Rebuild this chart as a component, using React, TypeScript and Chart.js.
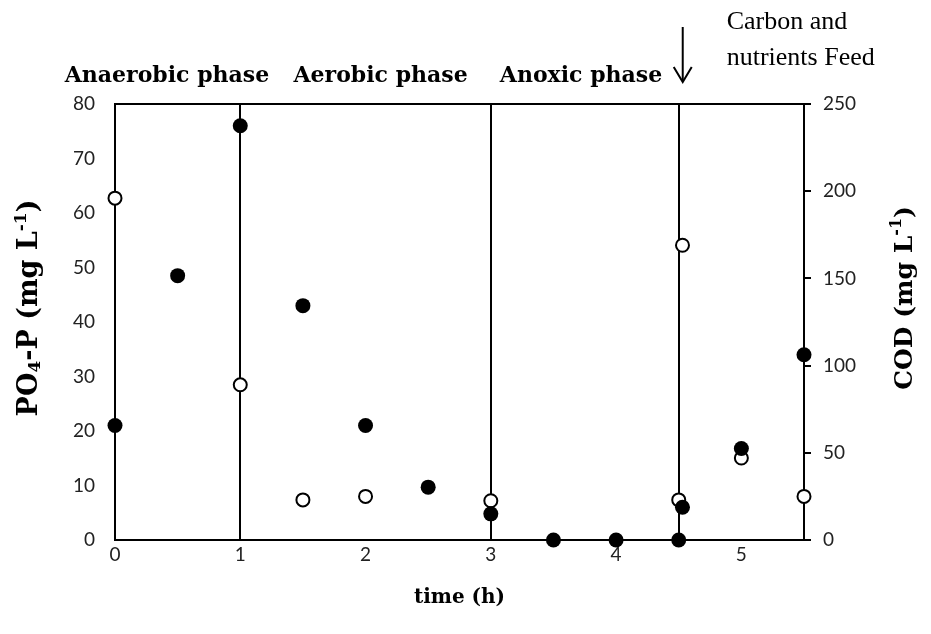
import React, { useEffect, useRef } from "react";
import { Chart, registerables } from "chart.js";

Chart.register(...registerables);

// PO4-P measurements (filled markers, left axis)
const poTime = [0, 0.5, 1, 1.5, 2, 2.5, 3, 3.5, 4, 4.5, 4.53, 5, 5.5];
const poValues = [21, 48.5, 76, 43, 21, 9.7, 4.8, 0, 0, 0, 6, 16.8, 34];

// COD measurements (open markers, right axis)
const codTime = [0, 1, 1.5, 2, 3, 4.5, 4.53, 5, 5.5];
const codValues = [196, 89, 23, 25, 22.5, 23, 169, 47, 25];

const xTickValues = [0, 1, 2, 3, 4, 5];
const phaseBoundaries = [1, 3, 4.5];
const phaseNames = ["Anaerobic phase", "Aerobic phase", "Anoxic phase"];
const phaseNameCenters = [0.415, 2.12, 3.72];
const feedTime = 4.5;
const feedText = ["Carbon and", "nutrients Feed"];

const SERIF = '"DejaVu Serif", serif';
const TEXT_SERIF = '"Liberation Serif", "Times New Roman", serif';
const SANS = 'Lato, "Open Sans", sans-serif';

type Part = { t: string; size: number; shift: number };

function drawParts(ctx: CanvasRenderingContext2D, parts: Part[], cx: number, cy: number, rot: number) {
  ctx.save();
  ctx.translate(cx, cy);
  ctx.rotate(rot);
  ctx.textBaseline = "middle";
  ctx.textAlign = "left";
  let total = 0;
  for (const p of parts) {
    ctx.font = `bold ${p.size}px ${SERIF}`;
    total += ctx.measureText(p.t).width;
  }
  let x = -total / 2;
  for (const p of parts) {
    ctx.font = `bold ${p.size}px ${SERIF}`;
    ctx.fillText(p.t, x, p.shift);
    x += ctx.measureText(p.t).width;
  }
  ctx.restore();
}

const overlay = {
  id: "phaseOverlay",
  beforeDatasetsDraw(chart: any) {
    const { ctx, chartArea, scales } = chart;
    const xs = scales.x;
    ctx.save();
    ctx.strokeStyle = "#000";
    ctx.lineWidth = 2;
    // top frame line
    ctx.beginPath();
    ctx.moveTo(chartArea.left - 1, chartArea.top);
    ctx.lineTo(chartArea.right, chartArea.top);
    ctx.stroke();
    // phase boundaries
    for (const b of phaseBoundaries) {
      const px = Math.round(xs.getPixelForValue(b));
      ctx.beginPath();
      ctx.moveTo(px, chartArea.top);
      ctx.lineTo(px, chartArea.bottom);
      ctx.stroke();
    }
    ctx.restore();
  },
  afterDraw(chart: any) {
    const { ctx, chartArea, scales } = chart;
    const xs = scales.x;
    ctx.save();
    ctx.fillStyle = "#000";
    ctx.strokeStyle = "#000";

    // phase names
    ctx.font = `bold 22px ${SERIF}`;
    ctx.textAlign = "center";
    ctx.textBaseline = "alphabetic";
    phaseNames.forEach((n, i) => {
      ctx.fillText(n, xs.getPixelForValue(phaseNameCenters[i]), 82);
    });

    // feed arrow
    const ax = xs.getPixelForValue(feedTime) + 4;
    ctx.lineWidth = 2;
    ctx.beginPath();
    ctx.moveTo(ax, 27);
    ctx.lineTo(ax, 81);
    ctx.stroke();
    ctx.beginPath();
    ctx.moveTo(ax - 9, 67);
    ctx.lineTo(ax, 82);
    ctx.lineTo(ax + 9, 67);
    ctx.stroke();

    ctx.font = `26px ${TEXT_SERIF}`;
    ctx.textAlign = "left";
    ctx.fillText(feedText[0], ax + 44, 29);
    ctx.fillText(feedText[1], ax + 44, 65);

    // axis titles
    drawParts(ctx, [{ t: "time (h)", size: 20, shift: 0 }], (chartArea.left + chartArea.right) / 2, 598, 0);
    drawParts(
      ctx,
      [
        { t: "PO", size: 27, shift: 0 },
        { t: "4", size: 17, shift: 6 },
        { t: "-P (mg L", size: 27, shift: 0 },
        { t: "-1", size: 17, shift: -8 },
        { t: ")", size: 27, shift: 0 },
      ],
      30,
      308,
      -Math.PI / 2
    );
    drawParts(
      ctx,
      [
        { t: "COD (mg L", size: 25, shift: 0 },
        { t: "-1", size: 16, shift: -8 },
        { t: ")", size: 25, shift: 0 },
      ],
      905,
      298,
      -Math.PI / 2
    );
    ctx.restore();
  },
};

export default function App() {
  const ref = useRef<HTMLCanvasElement | null>(null);

  useEffect(() => {
    document.body.style.margin = "0";
    const canvas = ref.current;
    if (!canvas) return;
    const tickFont = { family: SANS, size: 19 };
    const chart = new Chart(canvas, {
      type: "scatter",
      data: {
        datasets: [
          {
            label: "PO4-P",
            data: poTime.map((t, i) => ({ x: t, y: poValues[i] })),
            yAxisID: "y",
            pointRadius: 7.5,
            pointBackgroundColor: "#000",
            pointBorderColor: "#000",
            pointBorderWidth: 0,
            clip: false,
          },
          {
            label: "COD",
            data: codTime.map((t, i) => ({ x: t, y: codValues[i] })),
            yAxisID: "y1",
            pointRadius: 6.5,
            pointBackgroundColor: "#fff",
            pointBorderColor: "#000",
            pointBorderWidth: 2,
            clip: false,
          },
        ],
      },
      options: {
        responsive: false,
        animation: false,
        layout: { padding: { top: 104, left: 0, right: 0, bottom: 0 } },
        plugins: { legend: { display: false }, tooltip: { enabled: false } },
        scales: {
          x: {
            type: "linear",
            min: 0,
            max: 5.5,
            afterBuildTicks: (s: any) => {
              s.ticks = xTickValues.map((v) => ({ value: v }));
            },
            afterFit: (s: any) => {
              s.height = 94;
            },
            grid: { display: false, drawTicks: false },
            border: { display: true, color: "#000", width: 2 },
            ticks: { padding: 3, color: "#222", font: tickFont, maxRotation: 0 },
          },
          y: {
            position: "left",
            min: 0,
            max: 80,
            afterFit: (s: any) => {
              s.width = 115;
            },
            grid: { display: false, drawTicks: false },
            border: { display: true, color: "#000", width: 2 },
            ticks: { stepSize: 10, padding: 20, color: "#222", font: tickFont },
          },
          y1: {
            position: "right",
            min: 0,
            max: 250,
            afterFit: (s: any) => {
              s.width = 127;
            },
            grid: {
              display: true,
              drawOnChartArea: false,
              drawTicks: true,
              tickLength: 7,
              color: "#000",
              lineWidth: 2,
            },
            border: { display: true, color: "#000", width: 2 },
            ticks: { stepSize: 50, padding: 12, color: "#222", font: tickFont },
          },
        },
      },
      plugins: [overlay],
    } as any);
    return () => chart.destroy();
  }, []);

  return (
    <div style={{ position: "absolute", left: 0, top: 0, width: 931, height: 634, background: "#fff" }}>
      <canvas ref={ref} width={931} height={634} />
    </div>
  );
}
